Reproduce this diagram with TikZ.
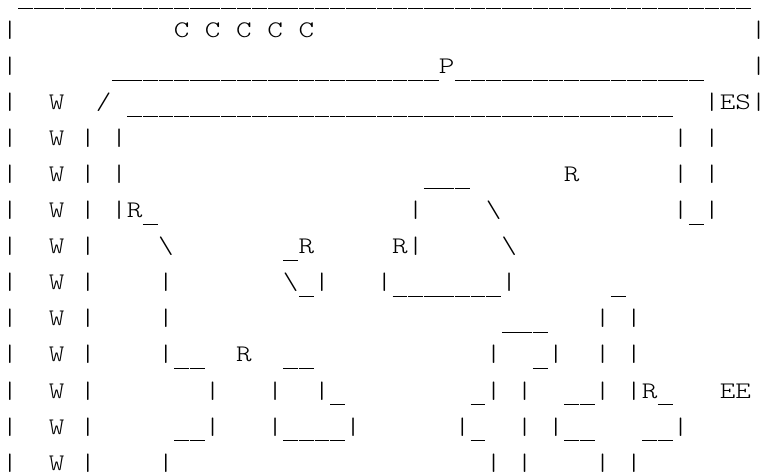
\documentclass[tikz,border=0pt]{standalone}
\usepackage{fontspec}
\newfontfamily\asciifont[FakeStretch=1.25]{Latin Modern Mono Light}
\newcount\usccnt
\newcommand\onebar{\kern0.4pt\rule[-6.8pt]{14.8pt}{1.2pt}\kern0.4pt}
\newcommand\usc[1]{\usccnt=#1\relax\loop\ifnum\usccnt>0 \onebar\advance\usccnt by -1\relax\repeat}
\newcommand\hsp[1]{\kern\dimexpr15.6pt*#1\relax}
\newcommand\bs{\textbackslash}
\tikzset{asciiline/.style={anchor=base west, inner sep=0pt, outer sep=0pt, text=black,
  font=\asciifont\fontsize{23.77}{36}\selectfont}}
\begin{document}
\begin{tikzpicture}[x=1pt,y=1pt]
\fill[white] (0,0) rectangle (761,-473);
\useasboundingbox (0,0) rectangle (761,-473);
\node[asciiline] (l0) at (2.2,-2) {\hsp{1}\usc{47}};
\node[asciiline] (l1) at (2.2,-38) {|\hsp{10}C\hsp{1}C\hsp{1}C\hsp{1}C\hsp{1}C\hsp{28}|};
\node[asciiline] (l2) at (2.2,-74) {|\hsp{6}\usc{21}P\usc{16}\hsp{3}|};
\node[asciiline] (l3) at (2.2,-110) {|\hsp{2}W\hsp{2}/\hsp{1}\usc{35}\hsp{2}|ES|};
\node[asciiline] (l4) at (2.2,-146) {|\hsp{2}W\hsp{1}|\hsp{1}|\hsp{35}|\hsp{1}|};
\node[asciiline] (l5) at (2.2,-182) {|\hsp{2}W\hsp{1}|\hsp{1}|\hsp{19}\usc{3}\hsp{6}R\hsp{6}|\hsp{1}|};
\node[asciiline] (l6) at (2.2,-218) {|\hsp{2}W\hsp{1}|\hsp{1}|R\usc{1}\hsp{16}|\hsp{4}\bs\hsp{11}|\usc{1}|};
\node[asciiline] (l7) at (2.2,-254) {|\hsp{2}W\hsp{1}|\hsp{4}\bs\hsp{7}\usc{1}R\hsp{5}R|\hsp{5}\bs};
\node[asciiline] (l8) at (2.2,-290) {|\hsp{2}W\hsp{1}|\hsp{4}|\hsp{7}\bs\usc{1}|\hsp{3}|\usc{7}|\hsp{6}\usc{1}};
\node[asciiline] (l9) at (2.2,-326) {|\hsp{2}W\hsp{1}|\hsp{4}|\hsp{21}\usc{3}\hsp{3}|\hsp{1}|};
\node[asciiline] (l10) at (2.2,-362) {|\hsp{2}W\hsp{1}|\hsp{4}|\usc{2}\hsp{2}R\hsp{2}\usc{2}\hsp{11}|\hsp{2}\usc{1}|\hsp{2}|\hsp{1}|};
\node[asciiline] (l11) at (2.2,-398) {|\hsp{2}W\hsp{1}|\hsp{7}|\hsp{3}|\hsp{2}|\usc{1}\hsp{8}\usc{1}|\hsp{1}|\hsp{2}\usc{2}|\hsp{1}|R\usc{1}\hsp{3}EE};
\node[asciiline] (l12) at (2.2,-434) {|\hsp{2}W\hsp{1}|\hsp{5}\usc{2}|\hsp{3}|\usc{4}|\hsp{6}|\usc{1}\hsp{2}|\hsp{1}|\usc{2}\hsp{3}\usc{2}|};
\node[asciiline] (l13) at (2.2,-470) {|\hsp{2}W\hsp{1}|\hsp{4}|\hsp{20}|\hsp{1}|\hsp{4}|\hsp{1}|};
\end{tikzpicture}
\end{document}
